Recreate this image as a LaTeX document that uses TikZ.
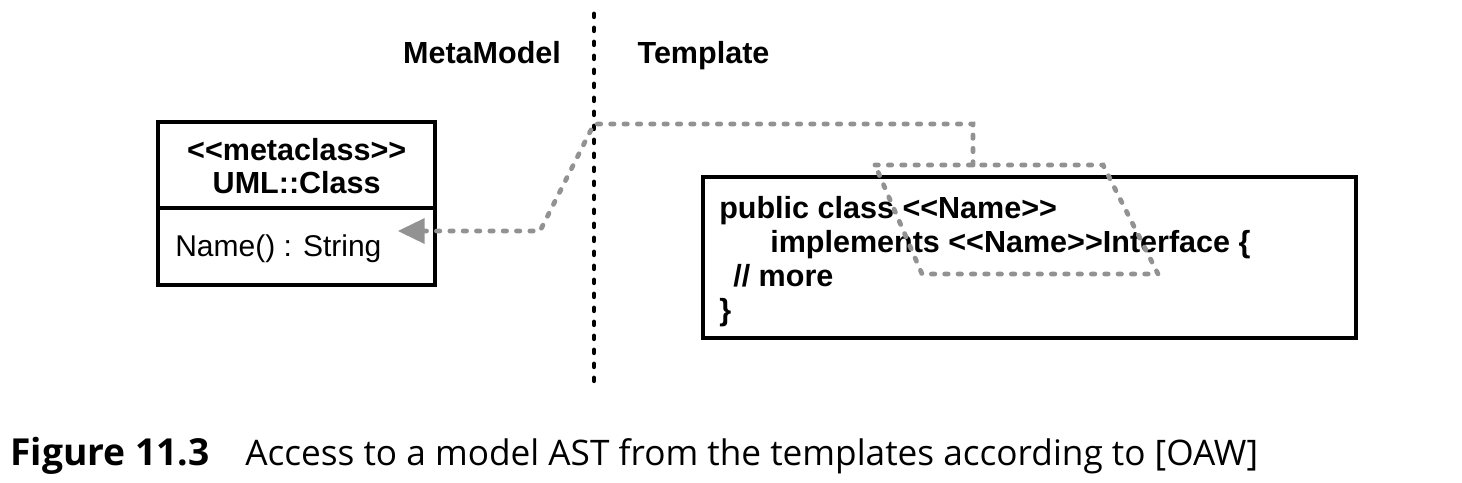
\documentclass[tikz,border=0pt]{standalone}
\usepackage{fontspec}
\setmainfont{Liberation Sans}
\newfontfamily\dfont{Liberation Sans}
\newfontfamily\capfont{Open Sans}
\usetikzlibrary{arrows.meta}
\definecolor{dgray}{HTML}{929292}
\tikzset{
  wtext/.style={font=\dfont\bfseries\fontsize{22.9}{26}\selectfont, inner sep=0pt},
  rtext/.style={font=\dfont\fontsize{22.5}{26}\selectfont, inner sep=0pt},
  captext/.style={font=\capfont\fontsize{26.4}{30}\selectfont, inner sep=0pt},
  capbold/.style={font=\capfont\bfseries\fontsize{27.9}{30}\selectfont, inner sep=0pt},
  boxline/.style={line width=3.6pt},
  sepline/.style={line width=3.6pt, line cap=round, dash pattern=on 2.1pt off 8.4pt},
  link/.style={draw=dgray, line width=3.6pt, line cap=round, dash pattern=on 2.5pt off 7.5pt},
}
\begin{document}
\begin{tikzpicture}[x=0.75pt,y=-0.75pt]
\useasboundingbox (0,0) rectangle (1462,482);

% separator
\coordinate (septop) at (594,14);
\coordinate (sepbot) at (594,390);
\draw[sepline] (septop) -- (sepbot);

% headings
\node[wtext, anchor=base] (mm) at (482,63) {MetaModel};
\node[wtext, anchor=base] (tp) at (703.5,63) {Template};

% UML class box
\node[draw, boxline, inner sep=0pt, minimum width=207.75pt, minimum height=122.25pt] (uml) at (296.5,203.5) {};
\draw[boxline] (uml.west |- 0,208) -- (uml.east |- 0,208);
\node[wtext, anchor=base] (stereo) at (296.7,160) {<<metaclass>>};
\node[wtext, anchor=base] (umlname) at (296.7,193) {UML::Class};
\node[rtext, anchor=base west] (attr) at (175,256) {Name() : String};

% template box
\node[draw, boxline, inner sep=0pt, minimum width=489.75pt, minimum height=120.75pt] (tpl) at (1029.5,257.5) {};
\node[wtext, anchor=base west] (l1) at (719,218) {public class <<Name>>};
\node[wtext, anchor=base west] (l2) at (770,252) {implements <<Name>>Interface \{};
\node[wtext, anchor=base west] (l3) at (733,286) {// more};
\node[wtext, anchor=base west] (l4) at (719,320) {\}};

% highlighted region (parallelogram)
\coordinate (pa) at (875,165);
\coordinate (pb) at (1103,165);
\coordinate (pc) at (1158,274);
\coordinate (pd) at (922,274);
\draw[link] (pa) -- (pb) -- (pc) -- (pd) -- cycle;

% access connector
\coordinate (c0) at (973,165);
\coordinate (c1) at (973,124);
\coordinate (c2) at (594,124);
\coordinate (c3) at (540,231);
\coordinate (tip) at (398,231);
\draw[link, -{Triangle[length=20pt,width=19.5pt,line width=0pt,fill=dgray]}] (c0) -- (c1) -- (c2) -- (c3) -- (tip);

% caption
\node[capbold, anchor=base west] (fig) at (10,465) {Figure 11.3};
\node[captext, anchor=base west] (cap) at (245,465) {Access to a model AST from the templates according to [OAW]};
\end{tikzpicture}
\end{document}
